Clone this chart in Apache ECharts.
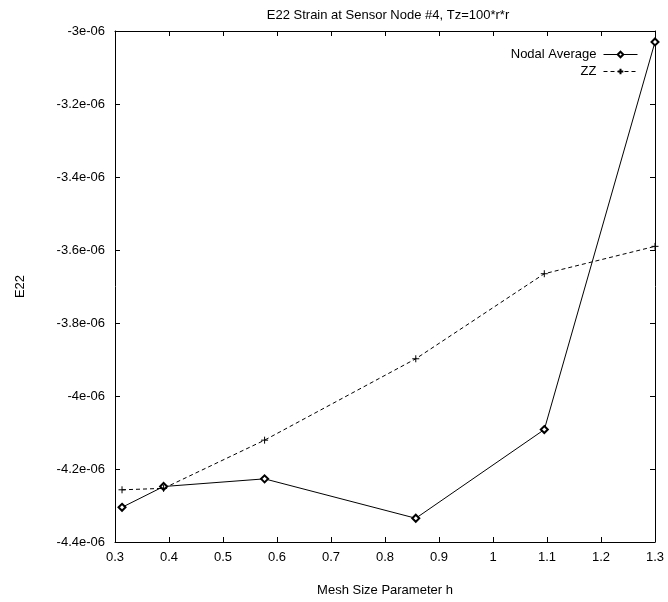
<!DOCTYPE html>
<html>
<head>
<meta charset="utf-8">
<script src="https://cdn.jsdelivr.net/npm/echarts@6/dist/echarts.min.js"></script>
<style>
  html, body { margin: 0; padding: 0; background: #fff; }
  #chart { width: 668px; height: 602px; }
</style>
</head>
<body>
<div id="chart"></div>
<script>
// mesh size parameter h (x values)
const hValues = [0.313, 0.39, 0.577, 0.857, 1.095, 1.3];
// E22 strain values
const nodalAverage = [-4.305e-6, -4.248e-6, -4.227e-6, -4.335e-6, -4.092e-6, -3.03e-6];
const zzValues = [-4.257e-6, -4.253e-6, -4.121e-6, -3.898e-6, -3.665e-6, -3.59e-6];
const seriesNames = ['Nodal Average', 'ZZ'];

const fontName = 'Liberation Sans, Arial, sans-serif';
const plusPath = 'path://M0,5L10,5M5,0L5,10';

function pairs(xs, ys) {
  return xs.map((x, i) => [x, ys[i]]);
}

function yLabel(v) {
  let m = Math.round(v * 1e7) / 10; // mantissa in 1e-06
  return m + 'e-06';
}

let chart = echarts.init(document.getElementById('chart'));

let axisCommon = {
  type: 'value',
  axisLine: { show: true, lineStyle: { color: '#000', width: 1 } },
  axisTick: { show: true, inside: true, length: 5, lineStyle: { color: '#000' } },
  splitLine: { show: false },
};

let option = {
  animation: false,
  backgroundColor: '#fff',
  textStyle: { fontFamily: fontName },
  title: {
    text: 'E22 Strain at Sensor Node #4, Tz=100*r*r',
    left: 383,
    top: 4,
    textAlign: 'center',
    textStyle: { fontSize: 13, fontWeight: 'normal', color: '#000', fontFamily: fontName },
  },
  legend: {
    orient: 'vertical',
    right: 25,
    top: 43,
    align: 'right',
    itemWidth: 34,
    itemHeight: 7,
    itemGap: 4,
    lineStyle: { width: 1 },
    textStyle: { fontSize: 13, color: '#000', fontFamily: fontName, padding: [0, 2, 0, 0] },
    data: seriesNames,
  },
  grid: { left: 115, right: 13, top: 31, bottom: 59 },
  xAxis: [
    Object.assign({}, axisCommon, {
      min: 0.3, max: 1.3, interval: 0.1,
      position: 'bottom',
      name: 'Mesh Size Parameter h',
      nameLocation: 'middle',
      nameGap: 42,
      nameTextStyle: { fontSize: 13, color: '#000', fontFamily: fontName },
      axisLabel: { color: '#000', fontSize: 13, margin: 9, fontFamily: fontName },
    }),
    Object.assign({}, axisCommon, {
      min: 0.3, max: 1.3, interval: 0.1,
      position: 'top',
      axisLabel: { show: false },
    }),
  ],
  yAxis: [
    Object.assign({}, axisCommon, {
      min: -4.4e-6, max: -3e-6, interval: 0.2e-6,
      position: 'left',
      name: 'E22',
      nameLocation: 'middle',
      nameGap: 88,
      nameRotate: 90,
      nameTextStyle: { fontSize: 13, color: '#000', fontFamily: fontName },
      axisLabel: { color: '#000', fontSize: 13, margin: 10, formatter: yLabel, fontFamily: fontName },
    }),
    Object.assign({}, axisCommon, {
      min: -4.4e-6, max: -3e-6, interval: 0.2e-6,
      position: 'right',
      axisLabel: { show: false },
    }),
  ],
  series: [
    {
      name: seriesNames[0],
      type: 'line',
      data: pairs(hValues, nodalAverage),
      symbol: 'emptyDiamond',
      symbolSize: 7,
      color: '#000',
      lineStyle: { color: '#000', width: 1, type: 'solid' },
      itemStyle: { color: '#000', borderColor: '#000', borderWidth: 1 },
    },
    {
      name: seriesNames[1],
      type: 'line',
      data: pairs(hValues, zzValues),
      symbol: plusPath,
      symbolSize: 7,
      color: '#000',
      lineStyle: { color: '#000', width: 1, type: [4, 3] },
      itemStyle: { color: 'none', borderColor: '#000', borderWidth: 1 },
    },
  ],
};

chart.setOption(option);
</script>
</body>
</html>
